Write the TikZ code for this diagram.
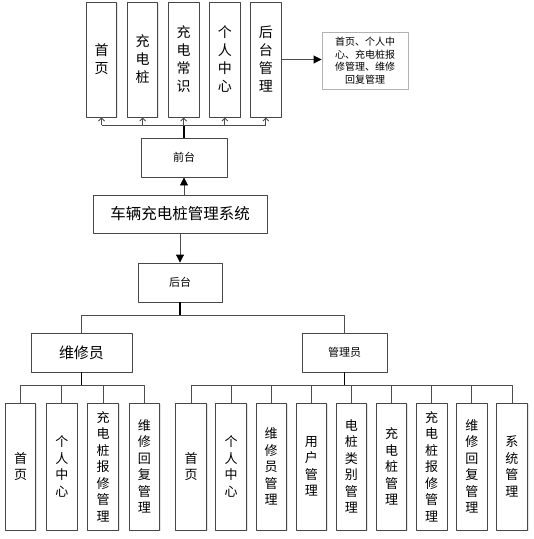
\documentclass[tikz,border=0pt]{standalone}
\usepackage{fontspec}
\newfontfamily\cjk{Noto Sans CJK SC}
\usetikzlibrary{arrows.meta,shadows}
\tikzset{
  box/.style={draw=black!72, line width=0.9pt, fill=white, inner sep=0pt, align=center,
    drop shadow={shadow xshift=1.3pt, shadow yshift=-1.3pt, fill=black!10, opacity=1}},
  tallbox/.style={box, minimum width=30.5pt, minimum height=115pt, font=\fontsize{14}{18}\selectfont\cjk},
  lowbox/.style={box, minimum width=30.5pt, minimum height=127pt, font=\fontsize{13}{16.5}\selectfont\cjk},
  midbox/.style={box, minimum height=39pt, font=\fontsize{11}{13}\selectfont\cjk},
  line/.style={draw=black!70, line width=0.9pt},
  trunk/.style={draw=black, line width=1.6pt},
  arr/.style={line, -{Triangle[length=8pt,width=8pt,color=black]}},
  barb/.style={line, -{Straight Barb[length=3pt,width=6pt]}}
}
\begin{document}
\begin{tikzpicture}[x=1pt, y=-1pt, line join=round, font=\cjk]
\useasboundingbox (0,0) rectangle (534,539);
% 前台 part
\foreach \t [count=\i, evaluate=\i as \x using 101.5+41.1*(\i-1)] in
  {{首\\页},{充\\电\\桩},{充\\电\\常\\识},{个\\人\\中\\心},{后\\台\\管\\理}}
  \node[tallbox] (f\i) at (\x,59.5) {\t};
\node[box, minimum width=86pt, minimum height=57pt, draw=black!30,
  font=\fontsize{10}{12.5}\selectfont\cjk] (note) at (365,60.5)
  {首页、个人中\\心、充电桩报\\修管理、维修\\回复管理};
\node[midbox, minimum width=86pt] (qian) at (184,157.5) {前台};
\node[box, minimum width=174pt, minimum height=38pt, font=\fontsize{15.5}{18}\selectfont\cjk]
  (sys) at (180,214) {车辆充电桩管理系统};
\node[midbox, minimum width=84pt] (hou) at (180,282.5) {后台};
% 后台 part
\node[midbox, minimum width=101pt, font=\fontsize{15}{18}\selectfont\cjk] (weixiu) at (81.5,352.5) {维修员};
\node[midbox, minimum width=85pt] (admin) at (344.5,352.5) {管理员};
\foreach \t [count=\i, evaluate=\i as \x using 20.5+41.33*(\i-1)] in
  {{首\\页},{个\\人\\中\\心},{充\\电\\桩\\报\\修\\管\\理},{维\\修\\回\\复\\管\\理}}
  \node[lowbox] (w\i) at (\x,466.5) {\t};
\foreach \t [count=\i, evaluate=\i as \x using 191+40.12*(\i-1)] in
  {{首\\页},{个\\人\\中\\心},{维\\修\\员\\管\\理},{用\\户\\管\\理},{电\\桩\\类\\别\\管\\理},
   {充\\电\\桩\\管\\理},{充\\电\\桩\\报\\修\\管\\理},{维\\修\\回\\复\\管\\理},{系\\统\\管\\理}}
  \node[lowbox] (a\i) at (\x,466.5) {\t};
% connectors
\coordinate (fbus) at (184,125);
\draw[trunk] (qian.north) -- (fbus);
\draw[line] (f1.south |- fbus) -- (f5.south |- fbus);
\foreach \i in {1,...,5}
  \draw[barb] (f\i.south |- fbus) -- (f\i.south);
\draw[arr] (f5.east) -- (f5.east -| note.west);
\draw[arr] (sys.north -| qian.south) -- (qian.south);
\draw[arr] (sys.south) -- (hou.north);
\draw[trunk] (hou.south) -- ++(0,14);
\draw[line] (weixiu.north) -- ++(0,-17) -| (admin.north);
\draw[trunk] (weixiu.south) -- ++(0,14);
\draw[line] (w1.north) -- ++(0,-17) -| (w4.north);
\foreach \i in {2,3}
  \draw[line] (w\i.north) -- ++(0,-17);
\draw[trunk] (admin.south) -- ++(0,14);
\draw[line] (a1.north) -- ++(0,-17) -| (a9.north);
\foreach \i in {2,...,8}
  \draw[line] (a\i.north) -- ++(0,-17);
\end{tikzpicture}
\end{document}
